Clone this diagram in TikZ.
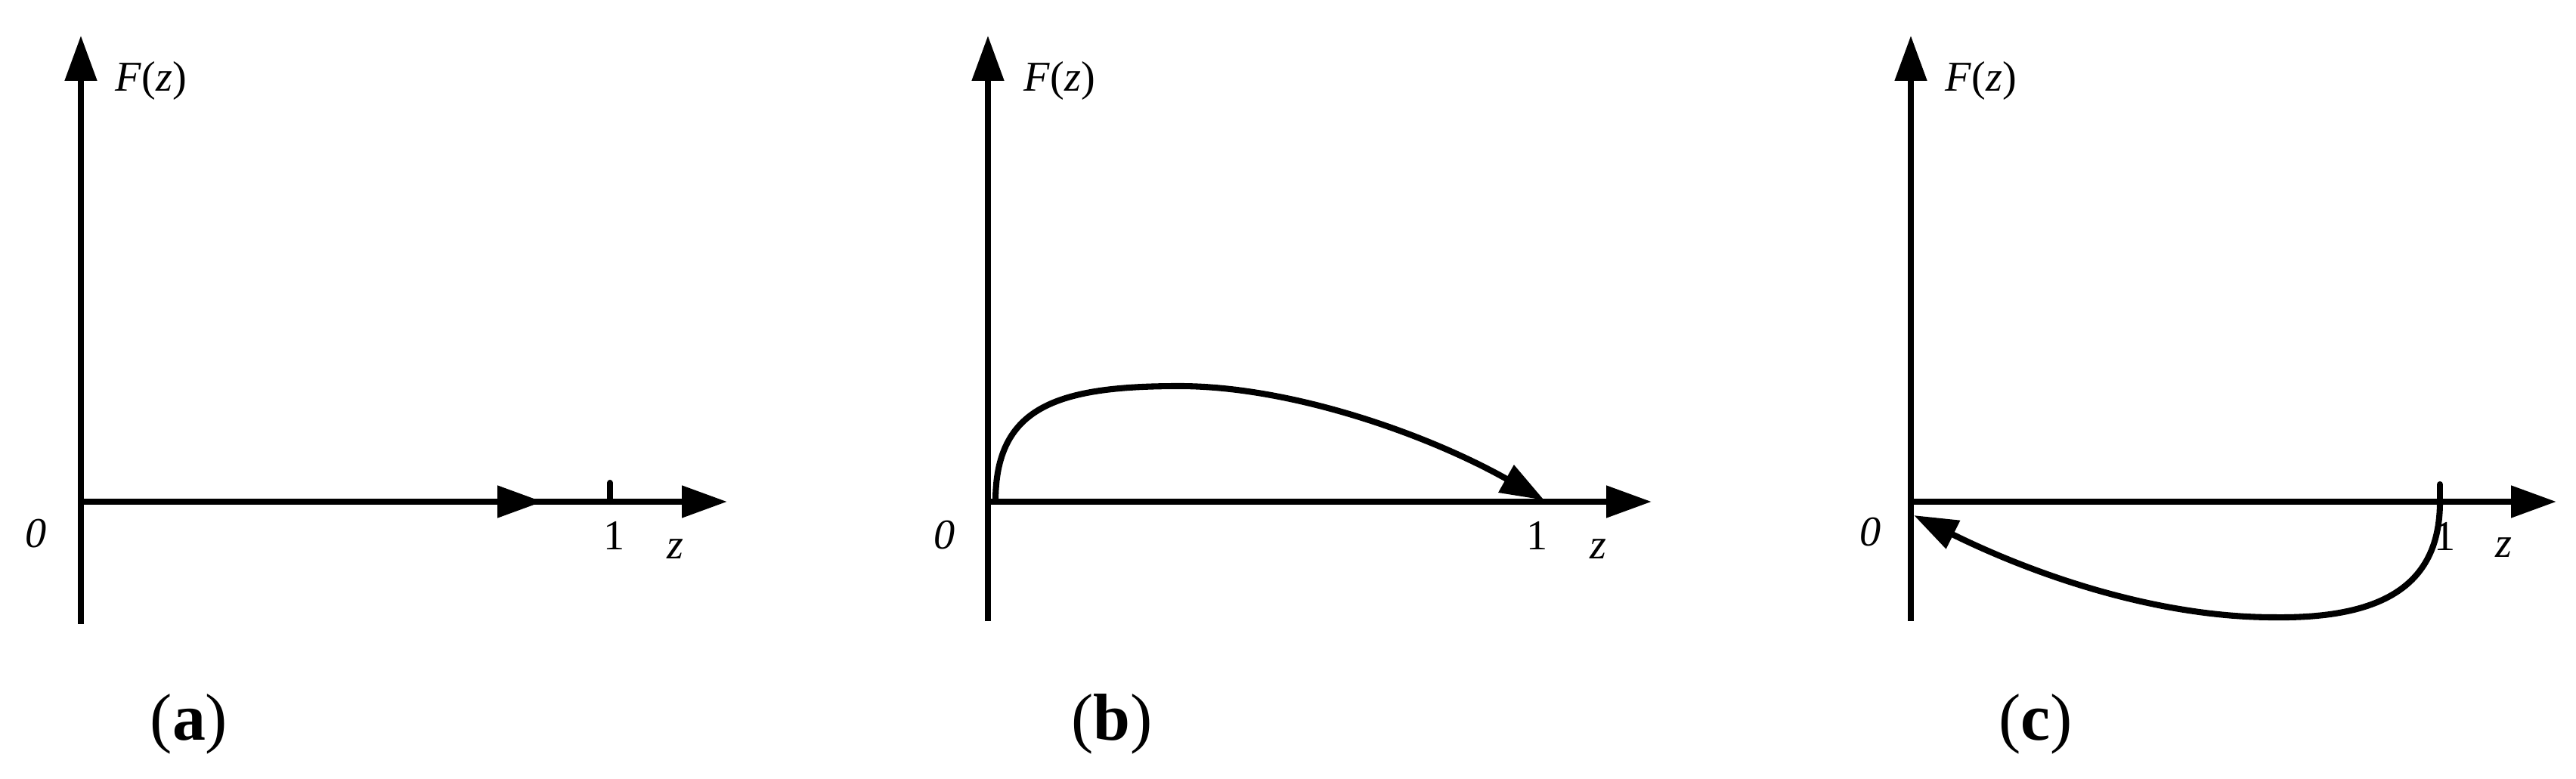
\documentclass[tikz,border=0pt]{standalone}
\usepackage{fontspec}
\setmainfont{Liberation Serif}
\usetikzlibrary{arrows.meta}
\tikzset{
  axis/.style={line width=2.3pt,-{Triangle[length=6mm,width=4.1mm]}},
  curve/.style={line width=2.3pt,-{Triangle[length=5.8mm,width=4mm]}},
  tick/.style={line width=2.3pt,line cap=round},
  lab/.style={inner sep=0pt,font=\fontsize{16}{19}\selectfont},
  subcap/.style={inner sep=0pt,font=\fontsize{25}{30}\selectfont}
}
\begin{document}
\begin{tikzpicture}
\useasboundingbox (0,0) rectangle (34.08,10.30);
% (a)
\begin{scope}[shift={(1.07,3.66)}]
  \coordinate (Oa) at (0,0);
  \coordinate (Ba) at (0,-1.62);
  \coordinate (Ya) at (0,6.17);
  \coordinate (Ma) at (6.11,0);
  \coordinate (Xa) at (8.55,0);
  \coordinate (Ta) at (7.00,0.25);
  \draw[axis] (Ba) -- (Ya);
  \draw[axis] (Oa) -- (Xa);
  \draw[axis] (Oa) -- (Ma);
  \draw[tick] (Ta) -- (Ta |- Oa);
  \node[lab] (Fa) at (0.93,5.57) {\textit{F}(\textit{z})};
  \node[lab] (Za) at (-0.59,-0.42) {\textit{0}};
  \node[lab] (Ua) at (7.06,-0.45) {1};
  \node[lab] (Va) at (7.86,-0.63) {\textit{z}};
  \node[subcap] (Ca) at (1.43,-2.94) {(\textbf{a})};
\end{scope}
% (b)
\begin{scope}[shift={(13.07,3.66)}]
  \coordinate (Ob) at (0,0);
  \coordinate (Bb) at (0,-1.58);
  \coordinate (Yb) at (0,6.17);
  \coordinate (Xb) at (8.78,0);
  \coordinate (Sb) at (0.10,0);
  \coordinate (Pb) at (2.53,1.53);
  \coordinate (Eb) at (7.36,0.02);
  \draw[axis] (Bb) -- (Yb);
  \draw[axis] (Ob) -- (Xb);
  \draw[curve] (Sb) .. controls (0.1,1.25) and (0.9,1.53) .. (Pb)
    .. controls (4.0,1.53) and (5.8,0.9) .. (Eb);
  \node[lab] (Fb) at (0.95,5.57) {\textit{F}(\textit{z})};
  \node[lab] (Zb) at (-0.57,-0.44) {\textit{0}};
  \node[lab] (Ub) at (7.27,-0.45) {1};
  \node[lab] (Vb) at (8.07,-0.63) {\textit{z}};
  \node[subcap] (Cb) at (1.64,-2.94) {(\textbf{b})};
\end{scope}
% (c)
\begin{scope}[shift={(25.28,3.66)}]
  \coordinate (Oc) at (0,0);
  \coordinate (Bc) at (0,-1.58);
  \coordinate (Yc) at (0,6.17);
  \coordinate (Xc) at (8.54,0);
  \coordinate (Tc) at (7.00,0.23);
  \coordinate (Sc) at (7.00,0);
  \coordinate (Pc) at (4.80,-1.53);
  \coordinate (Ec) at (0.04,-0.18);
  \draw[axis] (Bc) -- (Yc);
  \draw[axis] (Oc) -- (Xc);
  \draw[tick] (Tc) -- (Sc);
  \draw[curve] (Sc) .. controls (7.0,-1.1) and (6.25,-1.55) .. (Pc)
    .. controls (3.3,-1.53) and (1.7,-1.0) .. (Ec);
  \node[lab] (Fc) at (0.93,5.57) {\textit{F}(\textit{z})};
  \node[lab] (Zc) at (-0.53,-0.40) {\textit{0}};
  \node[lab] (Uc) at (7.07,-0.46) {1};
  \node[lab] (Vc) at (7.84,-0.61) {\textit{z}};
  \node[subcap] (Cc) at (1.65,-2.94) {(\textbf{c})};
\end{scope}
\end{tikzpicture}
\end{document}
